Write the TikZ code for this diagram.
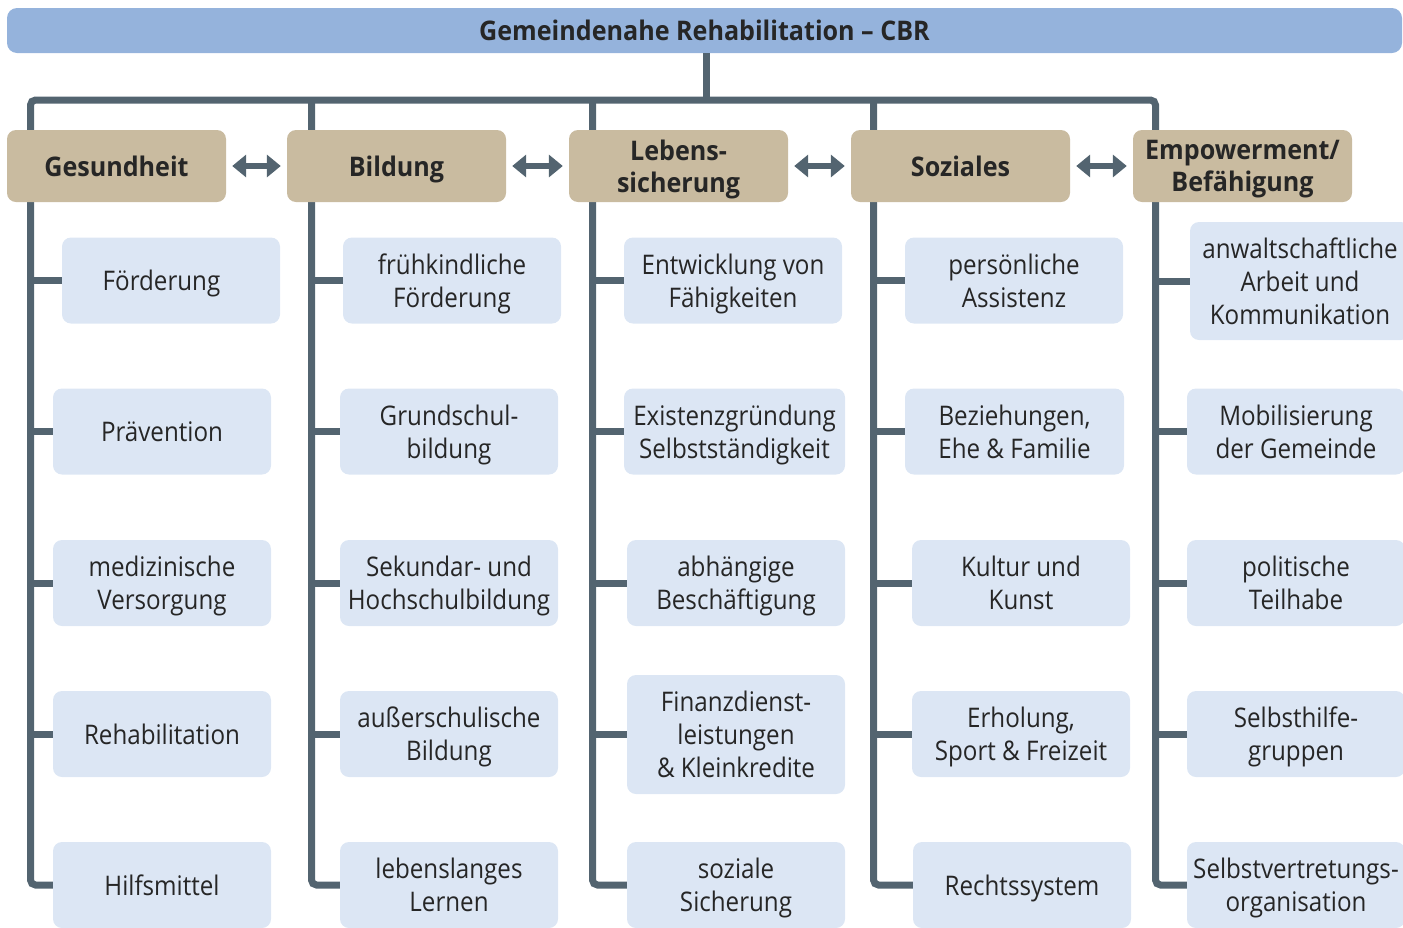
\documentclass[tikz,border=0pt]{standalone}
\usepackage{fontspec}
\setmainfont{Open Sans}[FakeStretch=0.895, BoldFeatures={FakeStretch=0.93}]
\usetikzlibrary{arrows.meta}
\definecolor{titleblue}{HTML}{95B3DC}
\definecolor{headtan}{HTML}{C9BBA0}
\definecolor{childblue}{HTML}{DCE6F4}
\definecolor{slate}{HTML}{536470}
\definecolor{ink}{HTML}{262626}
\begin{document}
\begin{tikzpicture}[x=1pt,y=-1pt,
  conn/.style={draw=slate, line width=7pt},
  headbox/.style={fill=headtan, rounded corners=9pt, minimum width=219pt, minimum height=72pt, inner sep=0pt, align=center, text depth=0pt, font=\fontsize{27}{32}\selectfont\bfseries, text=ink},
  childbox/.style={fill=childblue, rounded corners=9pt, minimum width=218pt, minimum height=86pt, inner sep=0pt, align=center, text depth=0pt, font=\fontsize{27}{33}\selectfont, text=ink},
  dbl/.style={draw=slate, line width=6pt, {Triangle[width=22pt,length=14pt]}-{Triangle[width=22pt,length=14pt]}, shorten <=6pt, shorten >=6pt}
]
\useasboundingbox (0,0) rectangle (1403,927);
\clip (0,0) rectangle (1403,927);

% title
\node[fill=titleblue, rounded corners=10pt, minimum width=1395pt, minimum height=45pt, inner sep=0pt, text depth=0pt,
      font=\fontsize{27}{32}\selectfont\bfseries, text=ink] (title) at (704.5,30.5) {Gemeindenahe Rehabilitation -- CBR};

% connector coordinates
\coordinate (tl) at (30.5,100);
\coordinate (v2) at (311.5,100);
\coordinate (v3) at (592.5,100);
\coordinate (v4) at (873.5,100);
\coordinate (tr) at (1155.5,100);
\coordinate (stem) at (706.5,100);

\coordinate (p15) at (53,885);
\coordinate (p25) at (340,885);
\coordinate (p35) at (627,885);
\coordinate (p45) at (913,885);
\coordinate (p55) at (1187,885);

\draw[conn] (title.south -| stem) -- (stem);
\draw[conn, rounded corners=5pt] (p15) -| (tl) -- (tr) |- (p55);
\draw[conn, rounded corners=5pt] (v2) |- (p25);
\draw[conn, rounded corners=5pt] (v3) |- (p35);
\draw[conn, rounded corners=5pt] (v4) |- (p45);

% headers
\node[headbox] (h1) at (116.5,166) {Gesundheit};
\node[headbox] (h2) at (396.5,166) {Bildung};
\node[headbox] (h3) at (678.5,166) {Lebens-\\sicherung};
\node[headbox] (h4) at (960.5,166) {Soziales};
\node[headbox] (h5) at (1242.5,166) {Empowerment/\\Befähigung};

\draw[dbl] (h1.east) -- (h2.west);
\draw[dbl] (h2.east) -- (h3.west);
\draw[dbl] (h3.east) -- (h4.west);
\draw[dbl] (h4.east) -- (h5.west);

% column 1
\node[childbox, label={[font=\fontsize{27}{33}\selectfont, text=ink, text depth=0pt, inner sep=0pt, xshift=-9.5pt]center:Förderung}] (c11) at (171,280.5) {};
\node[childbox] (c12) at (162,431.5) {Prävention};
\node[childbox] (c13) at (162,583) {medizinische\\Versorgung};
\node[childbox] (c14) at (162,734) {Rehabilitation};
\node[childbox] (c15) at (162,885) {Hilfsmittel};

% column 2
\node[childbox] (c21) at (452,280.5) {frühkindliche\\Förderung};
\node[childbox] (c22) at (449,431.5) {Grundschul-\\bildung};
\node[childbox] (c23) at (449,583) {Sekundar- und\\Hochschulbildung};
\node[childbox] (c24) at (449,734) {außerschulische\\Bildung};
\node[childbox] (c25) at (449,885) {lebenslanges\\Lernen};

% column 3
\node[childbox] (c31) at (733,280.5) {Entwicklung von\\Fähigkeiten};
\node[childbox, minimum width=221pt] (c32) at (734.5,431.5) {Existenzgründung\\Selbstständigkeit};
\node[childbox] (c33) at (736,583) {abhängige\\Beschäftigung};
\node[childbox, minimum height=119pt] (c34) at (736,734.5) {Finanzdienst-\\leistungen\\\& Kleinkredite};
\node[childbox] (c35) at (736,885) {soziale\\Sicherung};

% column 4
\node[childbox] (c41) at (1014,280.5) {persönliche\\Assistenz};
\node[childbox, minimum width=219pt] (c42) at (1014.5,431.5) {Beziehungen,\\Ehe \& Familie};
\node[childbox] (c43) at (1021,583) {Kultur und\\Kunst};
\node[childbox] (c44) at (1021,734) {Erholung,\\Sport \& Freizeit};
\node[childbox] (c45) at (1022,885) {Rechtssystem};

% column 5
\node[childbox, minimum width=220pt, minimum height=118pt] (c51) at (1300,281) {anwaltschaftliche\\Arbeit und\\Kommunikation};
\node[childbox] (c52) at (1296,431.5) {Mobilisierung\\der Gemeinde};
\node[childbox] (c53) at (1296,583) {politische\\Teilhabe};
\node[childbox] (c54) at (1296,734) {Selbsthilfe-\\gruppen};
\node[childbox] (c55) at (1296,885) {Selbstvertretungs-\\organisation};

% branches
\foreach \r in {1,2,3,4}{
  \draw[conn] (c1\r.west) -- (c1\r.west -| tl);
  \draw[conn] (c2\r.west) -- (c2\r.west -| v2);
  \draw[conn] (c3\r.west) -- (c3\r.west -| v3);
  \draw[conn] (c4\r.west) -- (c4\r.west -| v4);
  \draw[conn] (c5\r.west) -- (c5\r.west -| tr);
}
\end{tikzpicture}
\end{document}
